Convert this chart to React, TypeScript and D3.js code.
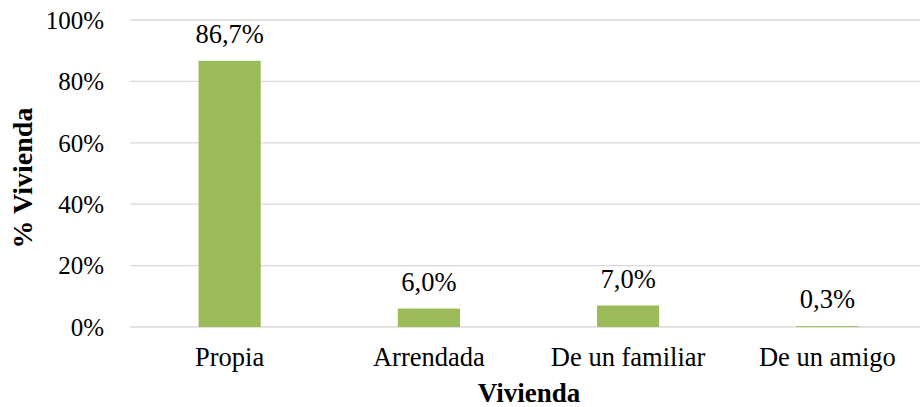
import { useEffect, useRef } from 'react';
import * as d3 from 'd3';

const categories = ['Propia', 'Arrendada', 'De un familiar', 'De un amigo'];
const values = [86.7, 6.0, 7.0, 0.3];
const yTicks = [0, 20, 40, 60, 80, 100];

const WIDTH = 920;
const HEIGHT = 407;
const FONT = '"Liberation Serif", "Times New Roman", serif';

export default function App() {
  const svgRef = useRef<SVGSVGElement | null>(null);

  useEffect(() => {
    const svg = d3.select(svgRef.current);
    svg.selectAll('*').remove();

    const left = 130;
    const right = 927;
    const top = 20;
    const bottom = 327;

    const x = d3.scaleBand<string>().domain(categories).range([left, right])
      .paddingInner(0.688).paddingOuter(0.344);
    const y = d3.scaleLinear().domain([0, 100]).range([bottom, top]);

    const g = svg.append('g').attr('font-family', FONT).attr('fill', '#000');

    // Gridlines
    g.selectAll('.grid').data(yTicks).join('line')
      .attr('x1', left).attr('x2', WIDTH)
      .attr('y1', d => y(d)).attr('y2', d => y(d))
      .attr('stroke', '#d9d9d9').attr('stroke-width', 1.3);

    // Y tick labels
    g.selectAll('.ytick').data(yTicks).join('text')
      .attr('x', 104).attr('y', d => y(d)).attr('dy', '0.35em')
      .attr('text-anchor', 'end').attr('font-size', 25)
      .text(d => `${d}%`);

    // Bars
    const data = categories.map((c, i) => ({ c, v: values[i] }));
    g.selectAll('.bar').data(data).join('rect')
      .attr('x', d => x(d.c)!).attr('width', x.bandwidth())
      .attr('y', d => y(d.v)).attr('height', d => bottom - y(d.v))
      .attr('fill', '#9bbb59');

    // Data labels
    g.selectAll('.val').data(data).join('text')
      .attr('x', d => x(d.c)! + x.bandwidth() / 2)
      .attr('y', d => y(d.v) - 18)
      .attr('text-anchor', 'middle').attr('font-size', 26.5)
      .text(d => `${d.v.toFixed(1).replace('.', ',')}%`);

    // X tick labels
    g.selectAll('.xtick').data(categories).join('text')
      .attr('x', d => x(d)! + x.bandwidth() / 2).attr('y', 366)
      .attr('text-anchor', 'middle').attr('font-size', 26.5)
      .text(d => d);

    // Axis titles
    g.append('text').attr('x', 529).attr('y', 402)
      .attr('text-anchor', 'middle').attr('font-size', 27).attr('font-weight', 'bold')
      .text('Vivienda');
    g.append('text')
      .attr('transform', `translate(32,178) rotate(-90)`)
      .attr('text-anchor', 'middle').attr('font-size', 28).attr('font-weight', 'bold')
      .text('% Vivienda');
  }, []);

  return (
    <div style={{ position: 'absolute', left: 0, top: 0 }}>
      <svg ref={svgRef} width={WIDTH} height={HEIGHT} style={{ display: 'block', background: '#fff' }} />
    </div>
  );
}
